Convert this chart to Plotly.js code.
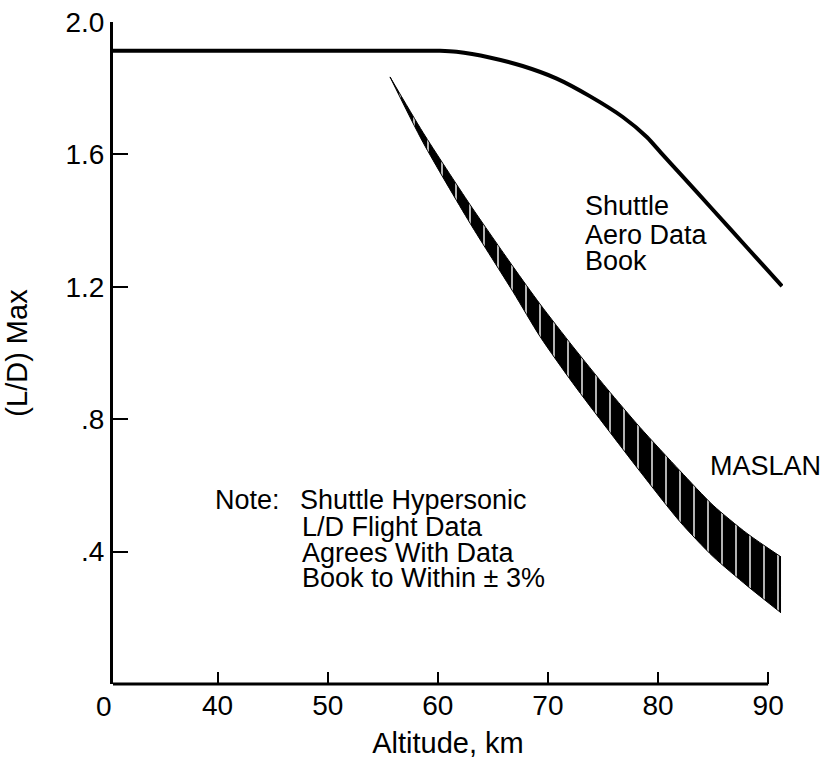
<!DOCTYPE html>
<html>
<head>
<meta charset="utf-8">
<script src="https://cdn.plot.ly/plotly-3.0.1.min.js"></script>
<style>html,body{margin:0;padding:0;background:#fff;}#chart{width:831px;height:764px;}</style>
</head>
<body>
<div id="chart"></div>
<script>
// Shuttle Aero Data Book curve
const shuttleAlt = [30.5, 40, 50, 56, 60.2, 61.7, 64.7, 67.7, 70.8, 73.8, 76.8, 79.0, 80.4, 82.0, 85.0, 88.1, 91.26];
const shuttleLD  = [1.913, 1.913, 1.913, 1.913, 1.913, 1.910, 1.893, 1.867, 1.829, 1.776, 1.713, 1.652, 1.600, 1.542, 1.432, 1.318, 1.202];

// MASLAN band
const maslanAlt   = [55.66, 58.66, 62.93, 66.83, 69.28, 72.28, 75.37, 78.37, 82.0, 85.0, 88.08, 91.17];
const maslanUpper = [1.834, 1.666, 1.448, 1.261, 1.148, 1.019, 0.892, 0.775, 0.644, 0.540, 0.455, 0.384];
const maslanLower = [1.834, 1.636, 1.392, 1.185, 1.050, 0.908, 0.772, 0.642, 0.490, 0.385, 0.297, 0.215];

// Axis ticks
const xTickVals = [40, 50, 60, 70, 80, 90];
const xTickText = ["40", "50", "60", "70", "80", "90"];
const yTickVals = [0.4, 0.8, 1.2, 1.6, 2.0];
const yTickText = [".4", ".8", "1.2", "1.6", "2.0"];

const FONT = "Liberation Sans, Arial, Helvetica, sans-serif";
const W = 831, H = 764;
const L = 113, R = 48, T = 22, B = 80;
const pw = W - L - R, ph = H - T - B;
const px = v => (v - L) / pw;
const py = v => (H - B - v) / ph;

const traces = [
  {x: maslanAlt, y: maslanLower, mode: 'lines', line: {color: 'black', width: 1, shape: 'spline', smoothing: 0.7}, hoverinfo: 'skip', showlegend: false},
  {x: maslanAlt, y: maslanUpper, mode: 'lines', line: {color: 'black', width: 1, shape: 'spline', smoothing: 0.7},
   fill: 'tonexty', fillcolor: 'black',
   fillpattern: {shape: '|', bgcolor: 'black', fgcolor: 'white', size: 14, solidity: 0.1, fillmode: 'replace'},
   hoverinfo: 'skip', showlegend: false, name: 'MASLAN'},
  {x: shuttleAlt, y: shuttleLD, mode: 'lines', line: {color: 'black', width: 4, shape: 'spline', smoothing: 0.6}, showlegend: false, name: 'Shuttle Aero Data Book'}
];

function ann(text, x, y, opts) {
  return Object.assign({text: text, xref: 'paper', yref: 'paper', x: px(x), y: py(y), xanchor: 'left', yanchor: 'middle', showarrow: false, borderpad: 0, font: {family: FONT, size: 27, color: 'black'}}, opts || {});
}

const annotations = [
  ann('Shuttle', 584, 206),
  ann('Aero Data', 584, 235),
  ann('Book', 584, 261),
  ann('MASLAN', 709, 466),
  ann('Note:', 214, 500),
  ann('Shuttle Hypersonic', 299, 500),
  ann('L/D Flight Data', 301, 527),
  ann('Agrees With Data', 301, 553),
  ann('Book to Within ± 3%', 301, 578),
  ann('0', 104, 706, {xanchor: 'center', font: {family: FONT, size: 28, color: 'black'}})
];

const layout = {
  width: W, height: H,
  margin: {l: L, r: R, t: T, b: B, pad: 0},
  paper_bgcolor: 'white', plot_bgcolor: 'white',
  font: {family: FONT, size: 27, color: 'black'},
  showlegend: false,
  xaxis: {
    range: [30.5, 91.35], showgrid: false, zeroline: false, showline: false,
    ticks: 'inside', ticklen: 12, tickwidth: 2, tickcolor: 'black',
    tickvals: xTickVals, ticktext: xTickText,
    ticklabelstandoff: 2,
    tickfont: {family: FONT, size: 28, color: 'black'},
    title: {text: 'Altitude, km', font: {family: FONT, size: 29, color: 'black'}, standoff: 12},
    fixedrange: true
  },
  yaxis: {
    range: [0, 2.0], showgrid: false, zeroline: false,
    showline: true, linecolor: 'black', linewidth: 3,
    ticks: 'inside', ticklen: 15, tickwidth: 2, tickcolor: 'black',
    tickvals: yTickVals, ticktext: yTickText,
    tickfont: {family: FONT, size: 28, color: 'black'},
    title: {text: '(L/D) Max', font: {family: FONT, size: 29, color: 'black'}, standoff: 30},
    fixedrange: true
  },
  shapes: [
    {type: 'line', xref: 'x', yref: 'paper', x0: 30.5, x1: 90, y0: 0, y1: 0, line: {color: 'black', width: 3}, layer: 'above'}
  ],
  annotations: annotations
};

Plotly.newPlot('chart', traces, layout, {displayModeBar: false, staticPlot: true});
</script>
</body>
</html>
